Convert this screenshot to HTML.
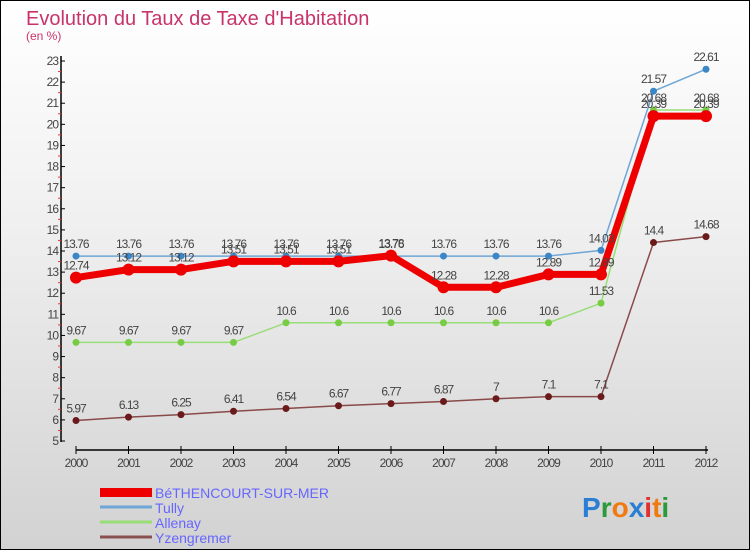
<!DOCTYPE html>
<html><head><meta charset="utf-8"><style>
html,body{margin:0;padding:0}
body{width:750px;height:550px;overflow:hidden;font-family:"Liberation Sans",sans-serif}
#wrap{position:absolute;left:0;top:0;width:748px;height:548px;border:1px solid #000;background:linear-gradient(#ffffff,#f0f0f0 40%,#d2d2d2)}
</style></head><body>
<div id="wrap">
<svg id="chart" width="750" height="550" style="position:absolute;left:-1px;top:-1px">
<text x="26" y="25" font-size="20" fill="#c8336a">Evolution du Taux de Taxe d'Habitation</text>
<text x="26" y="40" font-size="12" fill="#c8336a">(en %)</text>
<g id="axes"></g><g id="series"></g><g id="labels"></g>
<g>
<rect x="100" y="488" width="52" height="9" fill="#e00"/>
<text x="155" y="498" font-size="14" fill="#6666ff">BéTHENCOURT-SUR-MER</text>
<line x1="100" y1="507" x2="152" y2="507" stroke="#6ea6d6" stroke-width="3"/>
<text x="155" y="513" font-size="14" fill="#6666ff">Tully</text>
<line x1="100" y1="522" x2="152" y2="522" stroke="#99dd77" stroke-width="3"/>
<text x="155" y="528" font-size="14" fill="#6666ff">Allenay</text>
<line x1="100" y1="537" x2="152" y2="537" stroke="#8a5050" stroke-width="3"/>
<text x="155" y="543" font-size="14" fill="#6666ff">Yzengremer</text>
</g>
<text x="582" y="517" font-size="28" font-weight="bold"><tspan fill="#2a7fd4">P</tspan><tspan fill="#2a9a3a">r</tspan><tspan fill="#f07a10">o</tspan><tspan fill="#2a7fd4">x</tspan><tspan fill="#e03030">i</tspan><tspan fill="#f07a10">t</tspan><tspan fill="#2a9a3a">i</tspan></text>
</svg></div>
<script>
const years=[2000,2001,2002,2003,2004,2005,2006,2007,2008,2009,2010,2011,2012];
const bethencourt=[12.74,13.12,13.12,13.51,13.51,13.51,13.78,12.28,12.28,12.89,12.89,20.39,20.39];
const tully=[13.76,13.76,13.76,13.76,13.76,13.76,13.76,13.76,13.76,13.76,14.03,21.57,22.61];
const allenay=[9.67,9.67,9.67,9.67,10.6,10.6,10.6,10.6,10.6,10.6,11.53,20.68,20.68];
const yzengremer=[5.97,6.13,6.25,6.41,6.54,6.67,6.77,6.87,7,7.1,7.1,14.4,14.68];
const yTicks=[5,6,7,8,9,10,11,12,13,14,15,16,17,18,19,20,21,22,23];
const NS="http://www.w3.org/2000/svg";
const x0=76,x1=706,yMin=5,yMax=23,py0=441,py1=61;
const X=i=>x0+(x1-x0)*i/(years.length-1);
const Y=v=>py0-(v-yMin)/(yMax-yMin)*(py0-py1);
function mk(tag,attrs,parent){const e=document.createElementNS(NS,tag);for(const k in attrs)e.setAttribute(k,attrs[k]);parent.appendChild(e);return e;}
const axes=document.getElementById('axes'),ser=document.getElementById('series'),lab=document.getElementById('labels');
let a=mk('line',{x1:61,y1:56,x2:61,y2:442,stroke:'#000','stroke-width':1.5},axes);


a=mk('line',{x1:x0,y1:450,x2:708,y2:450,stroke:'#000','stroke-width':1.5},axes);


yTicks.forEach(v=>{
 mk('line',{x1:61,y1:Y(v),x2:65,y2:Y(v),stroke:'#000'},axes);
 if(v<yMax)mk('line',{x1:58,y1:Y(v+0.5),x2:61,y2:Y(v+0.5),stroke:'#e33'},axes);
 const t=mk('text',{x:58,y:Y(v)+4,'font-size':12,fill:'#444','text-anchor':'end','letter-spacing':'-1'},axes);
 t.textContent=v;
 
 
});
years.forEach((yr,i)=>{
 mk('line',{x1:X(i),y1:446,x2:X(i),y2:454,stroke:'#000'},axes);
 const t=mk('text',{x:X(i),y:467,'font-size':12,fill:'#444','text-anchor':'middle','letter-spacing':'-1'},axes);
 t.textContent=yr;
 
 
});
function series(arr,name,color,w,r,dot){
 const pts=arr.map((v,i)=>X(i)+','+Y(v)).join(' ');
 const p=mk('polyline',{points:pts,fill:'none',stroke:color,'stroke-width':w,'stroke-linejoin':'round'},ser);
 
 
 arr.forEach((v,i)=>{
  const c=mk('circle',{cx:X(i),cy:Y(v),r:r,fill:dot},ser);
  
  
  const t=mk('text',{x:X(i),y:Y(v)-8,'font-size':12,fill:'#444','text-anchor':'middle','letter-spacing':'-1'},lab);
  t.textContent=v;
  
  
 });
}
series(yzengremer,'yzengremer','#8a4a4a',1.5,3.5,'#6a1a1a');
series(allenay,'allenay','#99dd77',1.5,3.5,'#77cc44');
series(tully,'tully','#6ea6d6',1.5,3.5,'#3a86c6');
series(bethencourt,'bethencourt','#ee0000',7,6,'#ee0000');
</script>
</body></html>
